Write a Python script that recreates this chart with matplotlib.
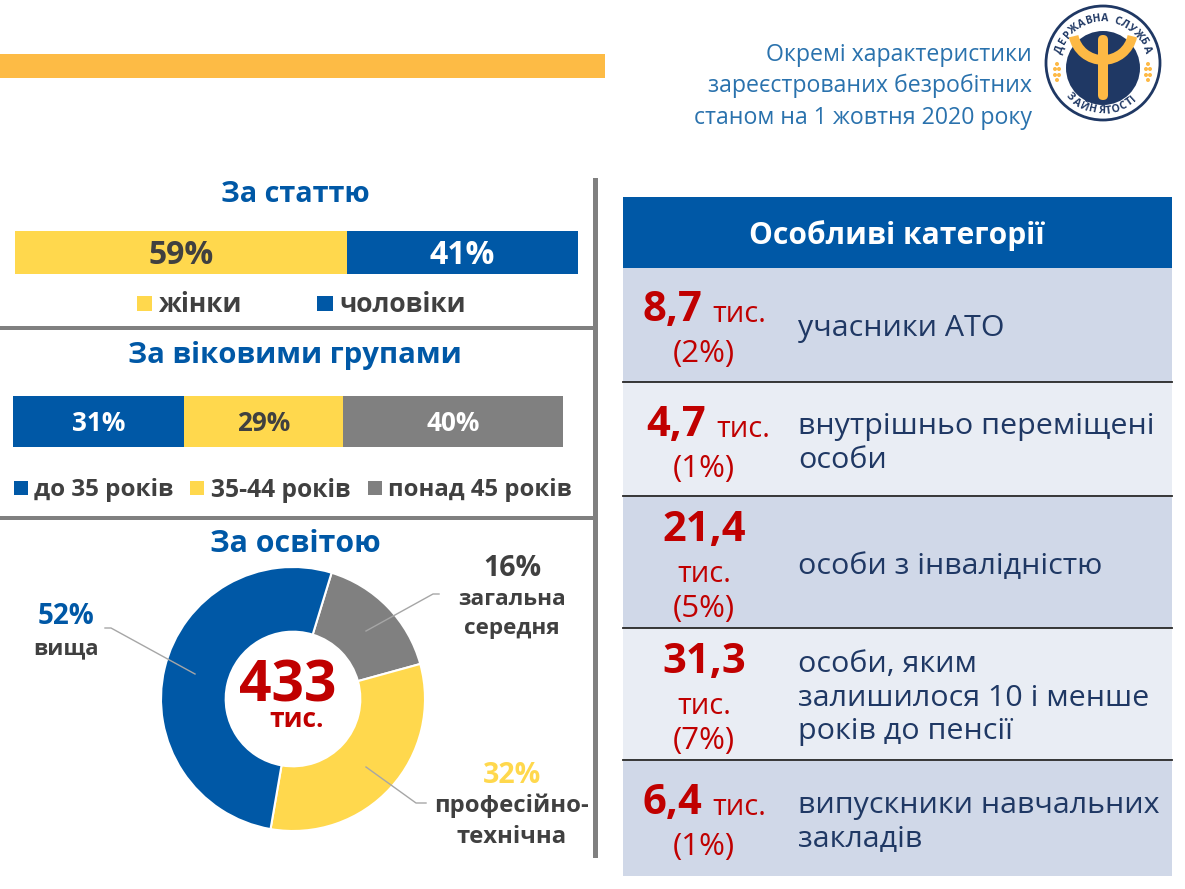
import matplotlib
matplotlib.use("Agg")
import matplotlib.pyplot as plt
from matplotlib.patches import Rectangle, Circle, Arc, FancyBboxPatch
import numpy as np

W, H = 1185, 889
BLUE = "#0058a6"
YELLOW = "#ffd84d"
GREY = "#808080"
RED = "#c00000"
NAVY = "#1f3864"
DARK = "#404040"
GOLD = "#fdb945"

plt.rcParams['font.family'] = ['Open Sans', 'DejaVu Sans']

# data
gender_labels = ["жінки", "чоловіки"]
gender_values = [59, 41]
age_labels = ["до 35 років", "35-44 років", "понад 45 років"]
age_values = [31, 29, 40]
edu_labels = ["загальна\nсередня", "професійно-\nтехнічна", "вища"]
edu_values = [16, 32, 52]
total_label = "433"
cat_values = ["8,7", "4,7", "21,4", "31,3", "6,4"]
cat_shares = ["(2%)", "(1%)", "(5%)", "(7%)", "(1%)"]
cat_names = ["учасники АТО", "внутрішньо переміщені\nособи", "особи з інвалідністю",
             "особи, яким\nзалишилося 10 і менше\nроків до пенсії", "випускники навчальних\nзакладів"]

fig = plt.figure(figsize=(W / 100, H / 100), dpi=100, facecolor="white")
bg = fig.add_axes([0, 0, 1, 1], zorder=5)
bg.set_xlim(0, W)
bg.set_ylim(H, 0)
bg.axis("off")


def px_axes(x0, y0, x1, y1):
    ax = fig.add_axes([x0 / W, 1 - y1 / H, (x1 - x0) / W, (y1 - y0) / H], zorder=1)
    ax.axis("off")
    return ax


def txt(x, y, s, size, color=DARK, weight="bold", ha="center", va="center", ls=1.2):
    # the text box sits a bit above the glyphs, push it back down
    return bg.text(x, y + 0.12 * size, s, fontsize=size, color=color, fontweight=weight,
                   ha=ha, va=va, linespacing=ls)


def stacked(ax, values, colors, text_colors, size, dy):
    left = 0
    for v, c, tc in zip(values, colors, text_colors):
        ax.barh(0, v, left=left, color=c, height=1)
        ax.text(left + v / 2, dy, f"{v}%", color=tc, fontsize=size, fontweight="bold", ha="center", va="center")
        left += v
    ax.set_xlim(0, sum(values))
    ax.set_ylim(-0.5, 0.5)


# top band and dividers
bg.add_patch(Rectangle((0, 54), 605, 24, color="#fdbb45", lw=0))
bg.add_patch(Rectangle((593, 178), 5, 680, color="#808080", lw=0))
bg.add_patch(Rectangle((0, 326), 595, 4, color="#808080", lw=0))
bg.add_patch(Rectangle((0, 516), 595, 4, color="#808080", lw=0))

# header
for y, s in zip([53, 84, 116], ["Окремі характеристики", "зареєстрованих безробітних", "станом на 1 жовтня 2020 року"]):
    txt(1032, y, s, 16.7, color="#2a72ad", weight="normal", ha="right")

# logo
lx, ly = 1103, 65
bg.add_patch(Circle((lx, 63), 57, fc="white", ec=NAVY, lw=2))
bg.add_patch(Circle((lx, 68), 37, fc=NAVY, ec="none"))
bg.add_patch(Arc((lx, 30), 60, 60, theta1=12, theta2=168, color=GOLD, lw=7))
bg.add_patch(FancyBboxPatch((lx - 5, 35), 10, 65, boxstyle="round,pad=0,rounding_size=5", fc=GOLD, ec="none"))
for wx in [1057, 1148]:
    for wy, dx in [(64, 0), (69, -2), (69, 2), (75, -2), (75, 2), (80, 0)]:
        bg.add_patch(Circle((wx + dx, wy), 2, fc=GOLD, ec="none"))


def curved(s, r, a0, a1, flip=False):
    # narrow signs take less of the arc, wide ones more
    w = np.array([0.6 if ch in " ІТ" else 1.25 if ch in "ЖДЩ" else 1.0 for ch in s])
    pos = np.cumsum(w) - w / 2
    pos = (pos - pos[0]) / (pos[-1] - pos[0])
    for ch, p in zip(s, pos):
        a = a0 + (a1 - a0) * p
        rad = np.radians(a)
        x = lx + r * np.cos(rad)
        y = ly - r * np.sin(rad)
        rot = a + 90 if flip else a - 90
        bg.text(x, y, ch, fontsize=7.6, color=NAVY, fontweight="bold", ha="center", va="center",
                rotation=rot, rotation_mode="anchor")


curved("ДЕРЖАВНА СЛУЖБА", 46, 160, 20)
curved("ЗАЙНЯТОСТІ", 46, 224, 312, flip=True)

# gender block
txt(295, 192, "За статтю", 20.8, color=BLUE)
ax1 = px_axes(15, 231, 578, 274)
stacked(ax1, gender_values, [YELLOW, BLUE], [DARK, "white"], 23, -0.07)
bg.add_patch(Rectangle((137, 296), 15, 15, color=YELLOW, lw=0))
txt(158, 302, gender_labels[0], 19, ha="left")
bg.add_patch(Rectangle((317, 296), 16, 15, color=BLUE, lw=0))
txt(339, 302, gender_labels[1], 19, ha="left")

# age block
txt(295, 353, "За віковими групами", 21.2, color=BLUE)
ax2 = px_axes(13, 396, 563, 447)
stacked(ax2, age_values, [BLUE, YELLOW, GREY], ["white", DARK, "white"], 18.8, -0.04)
for x, tx, c, fs, s in zip([14, 190, 368], [34, 211, 388], [BLUE, YELLOW, GREY], [17.5, 17.7, 17.2], age_labels):
    bg.add_patch(Rectangle((x, 481), 14, 14, color=c, lw=0))
    txt(tx, 488, s, fs, ha="left")

# education block
txt(295, 541, "За освітою", 21.8, color=BLUE)
ax3 = px_axes(161, 567, 425, 831)
ax3.pie(edu_values, colors=[GREY, YELLOW, BLUE], startangle=73, counterclock=False, radius=1,
        wedgeprops=dict(width=0.49, edgecolor="white", linewidth=1.5))
ax3.set_xlim(-1, 1)
ax3.set_ylim(-1, 1)
txt(288, 682, total_label, 41, color=RED)
txt(297, 717, "тис.", 19, color=RED)
bg.plot([439, 433, 366], [594, 594, 631], color="#a6a6a6", lw=1)
bg.plot([105, 111, 195], [628, 628, 674], color="#a6a6a6", lw=1)
bg.plot([366, 416, 426], [767, 803, 803], color="#a6a6a6", lw=1)
txt(512, 566, f"{edu_values[0]}%", 20.5)
txt(512, 612, edu_labels[0], 16.2, ls=1.45)
txt(512, 773, f"{edu_values[1]}%", 20.5, color=YELLOW)
txt(512, 819, edu_labels[1], 17.2, ls=1.36)
txt(66, 614, f"{edu_values[2]}%", 20, color=BLUE)
txt(66, 647, edu_labels[2], 16)

# categories panel
bg.add_patch(Rectangle((623, 197), 549, 71, color=BLUE, lw=0))
txt(897, 233, "Особливі категорії", 21.6, color="white")
row_tops = [268, 383, 497, 629, 761]
row_bots = [382, 496, 628, 760, 876]
row_cols = ["#d0d8e8", "#e9edf4", "#d0d8e8", "#e9edf4", "#d0d8e8"]
x_shift = [0, 4, 0, 0, 0]
for top, bot, col in zip(row_tops, row_bots, row_cols):
    bg.add_patch(Rectangle((623, top), 549, bot - top, color=col, lw=0))
for y in row_bots[:-1]:
    bg.plot([623, 1172], [y, y], color="#262626", lw=1.3)

for i, (v, sh, name) in enumerate(zip(cat_values, cat_shares, cat_names)):
    mid = (row_tops[i] + row_bots[i]) / 2
    txt(798, mid + 1, name, 21.9, color=NAVY, weight="normal", ha="left", ls=1.22)
    if len(v) > 3:
        txt(704, row_tops[i] + 30, v, 30, color=RED)
        txt(704, row_tops[i] + 75, "тис.", 21, color=RED, weight="normal")
        txt(704, row_tops[i] + 109, sh, 22.5, color=RED, weight="normal")
    else:
        txt(702 + x_shift[i], row_tops[i] + 39, v, 30, color=RED, ha="right")
        txt(712 + x_shift[i], row_tops[i] + 44, "тис.", 21, color=RED, weight="normal", ha="left")
        txt(704, row_tops[i] + 83, sh, 22.5, color=RED, weight="normal")

fig.savefig("out.png", dpi=100)
